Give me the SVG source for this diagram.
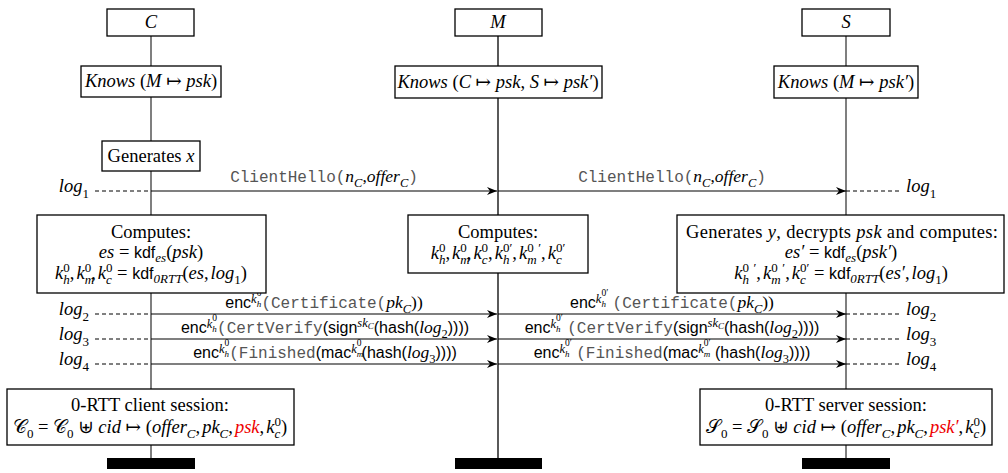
<svg xmlns="http://www.w3.org/2000/svg" width="1008" height="473" viewBox="0 0 1008 473">
<defs>
<marker id="ah" viewBox="0 0 10 8" refX="10" refY="4" markerWidth="10" markerHeight="8" markerUnits="userSpaceOnUse" orient="auto"><path d="M0,0 L10,4 L0,8 L3,4 z" fill="#000"/></marker>
<style>
.box{fill:#fff;stroke:#000;stroke-width:1.3}
.term{fill:#000}
.life{stroke:#555;stroke-width:1.5;fill:none}
.lifeM{stroke:#000;stroke-width:1.3;fill:none}
.msg{stroke:#000;stroke-width:1.2;fill:none}
.dash{stroke:#000;stroke-width:1;stroke-dasharray:4 3}
text{font-family:"Liberation Serif","DejaVu Serif",serif;font-size:18.5px;fill:#000}
.c{text-anchor:middle}
.e{text-anchor:end}
.i{font-style:italic}
.mo{font-family:"Liberation Mono",monospace;fill:#555;font-size:16px;font-style:normal}
.sf{font-family:"Liberation Sans",sans-serif;font-style:normal;font-size:16px}
.lbl{font-size:17.5px}
.red{fill:#e00}
</style>
</defs>

<g id="connectors">
  <line class="life" x1="151" y1="36" x2="151" y2="458"/>
  <line class="lifeM" x1="498" y1="36" x2="498" y2="458"/>
  <line class="life" x1="846" y1="36" x2="846" y2="458"/>
  <line class="msg" x1="151" y1="191" x2="497" y2="191" marker-end="url(#ah)"/>
  <line class="msg" x1="498" y1="191" x2="846" y2="191" marker-end="url(#ah)"/>
  <line class="msg" x1="151" y1="314" x2="497" y2="314" marker-end="url(#ah)"/>
  <line class="msg" x1="498" y1="314" x2="846" y2="314" marker-end="url(#ah)"/>
  <line class="msg" x1="151" y1="339" x2="497" y2="339" marker-end="url(#ah)"/>
  <line class="msg" x1="498" y1="339" x2="846" y2="339" marker-end="url(#ah)"/>
  <line class="msg" x1="151" y1="364" x2="497" y2="364" marker-end="url(#ah)"/>
  <line class="msg" x1="498" y1="364" x2="846" y2="364" marker-end="url(#ah)"/>
  <line class="dash" x1="95" y1="191" x2="151" y2="191"/>
  <line class="dash" x1="95" y1="314" x2="151" y2="314"/>
  <line class="dash" x1="95" y1="339" x2="151" y2="339"/>
  <line class="dash" x1="95" y1="364" x2="151" y2="364"/>
  <line class="dash" x1="846" y1="191" x2="902" y2="191"/>
  <line class="dash" x1="846" y1="314" x2="902" y2="314"/>
  <line class="dash" x1="846" y1="339" x2="902" y2="339"/>
  <line class="dash" x1="846" y1="364" x2="902" y2="364"/>

  <text class="c lbl" x="324" y="182"><tspan class="mo">ClientHello(</tspan><tspan class="i">n</tspan><tspan class="i" font-size="12.5" baseline-shift="-5">C</tspan>,<tspan class="i">offer</tspan><tspan class="i" font-size="12.5" baseline-shift="-5">C</tspan><tspan class="mo">)</tspan></text>
  <text class="c lbl" x="672" y="182"><tspan class="mo">ClientHello(</tspan><tspan class="i">n</tspan><tspan class="i" font-size="12.5" baseline-shift="-5">C</tspan>,<tspan class="i">offer</tspan><tspan class="i" font-size="12.5" baseline-shift="-5">C</tspan><tspan class="mo">)</tspan></text>

  <text class="c lbl" x="324" y="308"><tspan class="sf">enc</tspan><tspan class="i" font-size="12.5" baseline-shift="5">k</tspan><tspan class="i" font-size="9" baseline-shift="1">h</tspan><tspan font-size="9.5" dx="-4.5" baseline-shift="12">0</tspan><tspan class="mo">(Certificate(</tspan><tspan class="i">pk</tspan><tspan class="i" font-size="12.5" baseline-shift="-5">C</tspan>))</text>
  <text class="c lbl" x="325" y="333"><tspan class="sf">enc</tspan><tspan class="i" font-size="12.5" baseline-shift="5">k</tspan><tspan class="i" font-size="9" baseline-shift="1">h</tspan><tspan font-size="9.5" dx="-4.5" baseline-shift="12">0</tspan><tspan class="mo">(CertVerify</tspan><tspan class="sf">(sign</tspan><tspan class="i" font-size="12.5" baseline-shift="6">sk</tspan><tspan class="i" font-size="9" baseline-shift="4">C</tspan><tspan class="sf">(hash(</tspan><tspan class="i">log</tspan><tspan font-size="12.5" baseline-shift="-5">2</tspan><tspan class="sf">))))</tspan></text>
  <text class="c lbl" x="325" y="358"><tspan class="sf">enc</tspan><tspan class="i" font-size="12.5" baseline-shift="5">k</tspan><tspan class="i" font-size="9" baseline-shift="1">h</tspan><tspan font-size="9.5" dx="-4.5" baseline-shift="12">0</tspan><tspan class="mo">(Finished</tspan><tspan class="sf">(mac</tspan><tspan class="i" font-size="12.5" baseline-shift="5">k</tspan><tspan class="i" font-size="9" baseline-shift="1">m</tspan><tspan font-size="9.5" dx="-6.5" baseline-shift="12">0</tspan><tspan class="sf">(hash(</tspan><tspan class="i">log</tspan><tspan font-size="12.5" baseline-shift="-5">3</tspan><tspan class="sf">))))</tspan></text>

  <text class="c lbl" x="672" y="308"><tspan class="sf">enc</tspan><tspan class="i" font-size="12.5" baseline-shift="5">k</tspan><tspan class="i" font-size="9" baseline-shift="1">h</tspan><tspan font-size="9.5" dx="-4.5" baseline-shift="12">0′</tspan> <tspan class="mo">(Certificate(</tspan><tspan class="i">pk</tspan><tspan class="i" font-size="12.5" baseline-shift="-5">C</tspan>))</text>
  <text class="c lbl" x="672" y="333"><tspan class="sf">enc</tspan><tspan class="i" font-size="12.5" baseline-shift="5">k</tspan><tspan class="i" font-size="9" baseline-shift="1">h</tspan><tspan font-size="9.5" dx="-4.5" baseline-shift="12">0′</tspan> <tspan class="mo">(CertVerify</tspan><tspan class="sf">(sign</tspan><tspan class="i" font-size="12.5" baseline-shift="6">sk</tspan><tspan class="i" font-size="9" baseline-shift="4">C</tspan><tspan class="sf">(hash(</tspan><tspan class="i">log</tspan><tspan font-size="12.5" baseline-shift="-5">2</tspan><tspan class="sf">))))</tspan></text>
  <text class="c lbl" x="672" y="358"><tspan class="sf">enc</tspan><tspan class="i" font-size="12.5" baseline-shift="5">k</tspan><tspan class="i" font-size="9" baseline-shift="1">h</tspan><tspan font-size="9.5" dx="-4.5" baseline-shift="12">0′</tspan> <tspan class="mo">(Finished</tspan><tspan class="sf">(mac</tspan><tspan class="i" font-size="12.5" baseline-shift="5">k</tspan><tspan class="i" font-size="9" baseline-shift="1">m</tspan><tspan font-size="9.5" dx="-6.5" baseline-shift="12">0′</tspan><tspan class="sf"> (hash(</tspan><tspan class="i">log</tspan><tspan font-size="12.5" baseline-shift="-5">3</tspan><tspan class="sf">))))</tspan></text>

  <text class="e" x="89" y="192"><tspan class="i">log</tspan><tspan font-size="13" baseline-shift="-6">1</tspan></text>
  <text class="e" x="89" y="315"><tspan class="i">log</tspan><tspan font-size="13" baseline-shift="-6">2</tspan></text>
  <text class="e" x="89" y="340"><tspan class="i">log</tspan><tspan font-size="13" baseline-shift="-6">3</tspan></text>
  <text class="e" x="89" y="365"><tspan class="i">log</tspan><tspan font-size="13" baseline-shift="-6">4</tspan></text>
  <text x="906" y="192"><tspan class="i">log</tspan><tspan font-size="13" baseline-shift="-6">1</tspan></text>
  <text x="906" y="315"><tspan class="i">log</tspan><tspan font-size="13" baseline-shift="-6">2</tspan></text>
  <text x="906" y="340"><tspan class="i">log</tspan><tspan font-size="13" baseline-shift="-6">3</tspan></text>
  <text x="906" y="365"><tspan class="i">log</tspan><tspan font-size="13" baseline-shift="-6">4</tspan></text>
</g>

<g id="C-head"><rect class="box" x="107" y="9" width="87" height="27"/><text class="c i" x="151" y="28">C</text></g>
<g id="M-head"><rect class="box" x="455" y="9" width="87" height="27"/><text class="c i" x="498" y="28">M</text></g>
<g id="S-head"><rect class="box" x="802" y="9" width="88" height="27"/><text class="c i" x="846" y="28">S</text></g>

<g id="C-knows"><rect class="box" x="81" y="66" width="140" height="31"/><text class="c" x="151" y="87"><tspan class="i">Knows</tspan> (<tspan class="i">M</tspan> ↦ <tspan class="i">psk</tspan>)</text></g>
<g id="M-knows"><rect class="box" x="395" y="66" width="207" height="32"/><text class="c" x="498" y="88"><tspan class="i">Knows</tspan> (<tspan class="i">C</tspan> ↦ <tspan class="i">psk</tspan>, <tspan class="i">S</tspan> ↦ <tspan class="i">psk′</tspan>)</text></g>
<g id="S-knows"><rect class="box" x="774" y="66" width="144" height="32"/><text class="c" x="846" y="88"><tspan class="i">Knows</tspan> (<tspan class="i">M</tspan> ↦ <tspan class="i">psk′</tspan>)</text></g>

<g id="C-gen"><rect class="box" x="102" y="141" width="98" height="30"/><text class="c" x="151" y="162">Generates <tspan class="i">x</tspan></text></g>

<g id="C-computes"><rect class="box" x="37" y="215" width="229" height="78"/>
<text class="c" x="151" y="238">Computes:</text>
<text class="c" x="151" y="258"><tspan class="i">es</tspan> = <tspan class="sf" font-size="17">kdf</tspan><tspan class="i" font-size="13" baseline-shift="-4">es</tspan>(<tspan class="i">psk</tspan>)</text>
<text class="c" x="151" y="279"><tspan class="i">k</tspan><tspan class="i" font-size="13" baseline-shift="-5">h</tspan><tspan dx="-6.5" font-size="13" baseline-shift="7">0</tspan>,<tspan class="i" dx="2">k</tspan><tspan class="i" font-size="13" baseline-shift="-5">m</tspan><tspan dx="-9.4" font-size="13" baseline-shift="7">0</tspan>,<tspan class="i" dx="2">k</tspan><tspan class="i" font-size="13" baseline-shift="-5">c</tspan><tspan dx="-5.8" font-size="13" baseline-shift="7">0</tspan> = <tspan class="sf" font-size="17">kdf</tspan><tspan class="i" font-size="13" baseline-shift="-4">0RTT</tspan>(<tspan class="i">es</tspan>,<tspan class="i" dx="2">log</tspan><tspan font-size="13" baseline-shift="-5">1</tspan>)</text>
</g>

<g id="M-computes"><rect class="box" x="408" y="215" width="180" height="58"/>
<text class="c" x="498" y="238">Computes:</text>
<text class="c" x="498" y="259"><tspan class="i">k</tspan><tspan class="i" font-size="13" baseline-shift="-5">h</tspan><tspan dx="-6.5" font-size="13" baseline-shift="7">0</tspan>,<tspan class="i" dx="2">k</tspan><tspan class="i" font-size="13" baseline-shift="-5">m</tspan><tspan dx="-9.4" font-size="13" baseline-shift="7">0</tspan>,<tspan class="i" dx="2">k</tspan><tspan class="i" font-size="13" baseline-shift="-5">c</tspan><tspan dx="-5.8" font-size="13" baseline-shift="7">0</tspan>,<tspan class="i" dx="2">k</tspan><tspan class="i" font-size="13" baseline-shift="-5">h</tspan><tspan dx="-6.5" font-size="13" baseline-shift="7">0′</tspan>,<tspan class="i" dx="2">k</tspan><tspan class="i" font-size="13" baseline-shift="-5">m</tspan><tspan dx="-9.4" font-size="13" baseline-shift="7">0</tspan> <tspan font-size="13" baseline-shift="7">′</tspan>,<tspan class="i" dx="2">k</tspan><tspan class="i" font-size="13" baseline-shift="-5">c</tspan><tspan dx="-5.8" font-size="13" baseline-shift="7">0′</tspan></text>
</g>

<g id="S-computes"><rect class="box" x="677" y="215" width="327" height="78"/>
<text class="c" x="842" y="238" textLength="312" lengthAdjust="spacing">Generates <tspan class="i">y</tspan>, decrypts <tspan class="i">psk</tspan> and computes:</text>
<text class="c" x="841" y="258"><tspan class="i">es′</tspan> = <tspan class="sf" font-size="17">kdf</tspan><tspan class="i" font-size="13" baseline-shift="-4">es</tspan>(<tspan class="i">psk′</tspan>)</text>
<text class="c" x="841" y="279"><tspan class="i">k</tspan><tspan class="i" font-size="13" baseline-shift="-5">h</tspan><tspan dx="-6.5" font-size="13" baseline-shift="7">0</tspan> <tspan font-size="13" baseline-shift="7">′</tspan>,<tspan class="i" dx="2">k</tspan><tspan class="i" font-size="13" baseline-shift="-5">m</tspan><tspan dx="-9.4" font-size="13" baseline-shift="7">0</tspan> <tspan font-size="13" baseline-shift="7">′</tspan>,<tspan class="i" dx="2">k</tspan><tspan class="i" font-size="13" baseline-shift="-5">c</tspan><tspan dx="-5.8" font-size="13" baseline-shift="7">0′</tspan> = <tspan class="sf" font-size="17">kdf</tspan><tspan class="i" font-size="13" baseline-shift="-4">0RTT</tspan>(<tspan class="i">es′</tspan>,<tspan class="i" dx="2">log</tspan><tspan font-size="13" baseline-shift="-5">1</tspan>)</text>
</g>

<g id="C-session"><rect class="box" x="7" y="389" width="287" height="56"/>
<text class="c" x="150" y="411">0-RTT client session:</text>
<text class="c" x="150" y="433">𝒞<tspan font-size="13" baseline-shift="-5">0</tspan> = 𝒞<tspan font-size="13" baseline-shift="-5">0</tspan> ⊎ <tspan class="i">cid</tspan> ↦ (<tspan class="i">offer</tspan><tspan class="i" font-size="13" baseline-shift="-5">C</tspan>,<tspan class="i" dx="2">pk</tspan><tspan class="i" font-size="13" baseline-shift="-5">C</tspan>,<tspan class="i red" dx="2">psk</tspan>,<tspan class="i" dx="2">k</tspan><tspan class="i" font-size="13" baseline-shift="-5">c</tspan><tspan dx="-5.8" font-size="13" baseline-shift="7">0</tspan>)</text>
</g>

<g id="S-session"><rect class="box" x="700" y="389" width="292" height="56"/>
<text class="c" x="846" y="433">𝒮<tspan font-size="13" baseline-shift="-5">0</tspan> = 𝒮<tspan font-size="13" baseline-shift="-5">0</tspan> ⊎ <tspan class="i">cid</tspan> ↦ (<tspan class="i">offer</tspan><tspan class="i" font-size="13" baseline-shift="-5">C</tspan>,<tspan class="i" dx="2">pk</tspan><tspan class="i" font-size="13" baseline-shift="-5">C</tspan>,<tspan class="i red" dx="2">psk′</tspan>,<tspan class="i" dx="2">k</tspan><tspan class="i" font-size="13" baseline-shift="-5">c</tspan><tspan dx="-5.8" font-size="13" baseline-shift="7">0</tspan>)</text>
<text class="c" x="846" y="411">0-RTT server session:</text>
</g>

<g id="C-end"><rect class="term" x="107" y="458" width="88" height="11"/></g>
<g id="M-end"><rect class="term" x="455" y="458" width="87" height="11"/></g>
<g id="S-end"><rect class="term" x="802" y="458" width="88" height="11"/></g>
</svg>
